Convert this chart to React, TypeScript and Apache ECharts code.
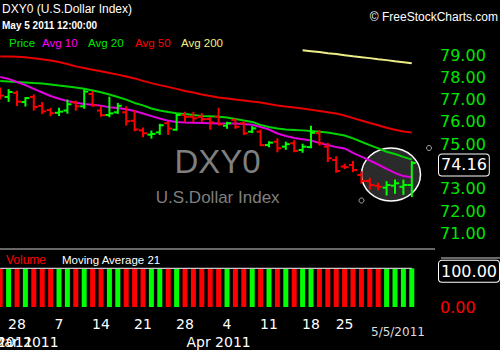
import React, { useEffect, useRef } from "react";
import * as echarts from "echarts";

const dates = [
  "2011-02-24", "2011-02-25", "2011-02-28", "2011-03-01", "2011-03-02", "2011-03-03", "2011-03-04",
  "2011-03-07", "2011-03-08", "2011-03-09", "2011-03-10", "2011-03-11",
  "2011-03-14", "2011-03-15", "2011-03-16", "2011-03-17", "2011-03-18",
  "2011-03-21", "2011-03-22", "2011-03-23", "2011-03-24", "2011-03-25",
  "2011-03-28", "2011-03-29", "2011-03-30", "2011-03-31", "2011-04-01",
  "2011-04-04", "2011-04-05", "2011-04-06", "2011-04-07", "2011-04-08",
  "2011-04-11", "2011-04-12", "2011-04-13", "2011-04-14", "2011-04-15",
  "2011-04-18", "2011-04-19", "2011-04-20", "2011-04-21",
  "2011-04-25", "2011-04-26", "2011-04-27", "2011-04-28", "2011-04-29",
  "2011-05-02", "2011-05-03", "2011-05-04", "2011-05-05",
];
const padCategories = ["pad1", "pad2", "pad3"];

const opens = [
  77.35, 77.12, 77.30, 76.89, 77.12, 76.72, 76.53, 76.41, 76.51, 76.88,
  76.70, 77.25, 76.51, 76.31, 76.43, 76.43, 76.05, 75.62, 75.43, 75.53,
  75.94, 75.65, 76.31, 76.23, 76.23, 76.13, 76.23, 75.83, 76.09, 75.94,
  75.56, 75.56, 74.96, 75.11, 74.89, 75.04, 74.74, 74.87, 75.49, 74.89,
  74.29, 74.00, 74.07, 73.62, 73.35, 73.14, 73.05, 73.14, 73.09, 73.17,
];
const highs = [
  77.52, 77.45, 77.38, 77.09, 77.21, 76.87, 76.61, 76.61, 76.98, 76.93,
  77.43, 77.36, 76.70, 77.11, 76.83, 76.68, 76.51, 75.73, 75.59, 75.89,
  76.01, 76.34, 76.43, 76.43, 76.37, 76.20, 76.61, 75.98, 76.13, 76.01,
  75.79, 75.64, 75.11, 75.24, 75.09, 75.16, 75.00, 75.80, 75.62, 75.04,
  74.44, 74.10, 74.22, 73.77, 73.47, 73.25, 73.32, 73.39, 73.39, 74.22,
];
const lows = [
  77.03, 76.92, 76.74, 76.71, 76.53, 76.38, 76.27, 76.29, 76.39, 76.53,
  76.61, 76.70, 76.25, 76.23, 76.38, 75.86, 75.60, 75.33, 75.27, 75.44,
  75.44, 75.63, 76.01, 76.01, 76.01, 75.67, 75.86, 75.71, 75.71, 75.44,
  75.52, 74.93, 74.89, 74.66, 74.77, 74.66, 74.64, 74.84, 74.96, 74.22,
  73.74, 73.90, 73.77, 73.25, 72.99, 72.95, 72.72, 72.80, 72.75, 72.65,
];
const closes = [
  77.18, 77.34, 76.91, 77.07, 76.67, 76.47, 76.39, 76.46, 76.79, 76.70,
  77.36, 76.74, 76.30, 76.38, 76.72, 76.03, 75.66, 75.49, 75.46, 75.85,
  75.70, 76.31, 76.23, 76.16, 76.12, 75.98, 75.89, 75.94, 75.78, 75.49,
  75.71, 74.96, 75.07, 74.82, 75.00, 74.70, 74.89, 75.51, 75.04, 74.37,
  73.80, 73.97, 73.84, 73.35, 73.17, 73.09, 73.17, 73.25, 73.17, 74.16,
];

const avg10 = [
  78.01, 77.93, 77.79, 77.65, 77.48, 77.32, 77.16, 77.04, 76.94, 76.86,
  76.80, 76.77, 76.73, 76.66, 76.62, 76.57, 76.49, 76.38, 76.26, 76.15,
  76.05, 76.00, 75.97, 75.96, 75.95, 75.94, 75.93, 75.93, 75.93, 75.91,
  75.87, 75.77, 75.66, 75.48, 75.37, 75.28, 75.22, 75.17, 75.05, 74.96,
  74.87, 74.81, 74.61, 74.44, 74.27, 74.09, 73.89, 73.71, 73.57, 73.52,
];
const avg20 = [
  77.83, 77.81, 77.79, 77.77, 77.74, 77.72, 77.68, 77.63, 77.59, 77.54,
  77.49, 77.41, 77.33, 77.23, 77.12, 77.00, 76.85, 76.74, 76.60, 76.51,
  76.44, 76.39, 76.35, 76.31, 76.26, 76.25, 76.23, 76.20, 76.13, 76.06,
  76.00, 75.86, 75.77, 75.70, 75.66, 75.64, 75.62, 75.59, 75.56, 75.52,
  75.46, 75.39, 75.26, 75.11, 74.96, 74.81, 74.66, 74.56, 74.43, 74.31,
];
const avg50 = [
  78.93, 78.93, 78.92, 78.90, 78.85, 78.81, 78.75, 78.69, 78.60, 78.49,
  78.42, 78.34, 78.27, 78.19, 78.12, 78.04, 77.95, 77.84, 77.74, 77.65,
  77.57, 77.48, 77.39, 77.32, 77.23, 77.16, 77.09, 77.05, 77.00, 76.96,
  76.91, 76.87, 76.80, 76.74, 76.69, 76.65, 76.60, 76.55, 76.49, 76.43,
  76.38, 76.29, 76.17, 76.06, 75.95, 75.85, 75.74, 75.65, 75.57, 75.52,
];
const avg200 = [
  null, null, null, null, null, null, null, null, null, null,
  null, null, null, null, null, null, null, null, null, null,
  null, null, null, null, null, null, null, null, null, null,
  null, null, null, null, null, null, 79.21, 79.17, 79.13, 79.08,
  79.04, 78.99, 78.94, 78.90, 78.86, 78.81, 78.77, 78.72, 78.68, 78.63,
];

const volumes = [
  100, 100, 100, 100, 100, 100, 100, 100, 100, 100,
  100, 100, 100, 100, 100, 100, 100, 100, 100, 100,
  100, 100, 100, 100, 100, 100, 100, 100, 100, 100,
  100, 100, 100, 100, 100, 100, 100, 100, 100, 100,
  100, 100, 100, 100, 100, 100, 100, 100, 100, 100,
];
const volumeAvg21 = [
  100, 100, 100, 100, 100, 100, 100, 100, 100, 100,
  100, 100, 100, 100, 100, 100, 100, 100, 100, 100,
  100, 100, 100, 100, 100, 100, 100, 100, 100, 100,
  100, 100, 100, 100, 100, 100, 100, 100, 100, 100,
  100, 100, 100, 100, 100, 100, 100, 100, 100, 100,
];

const dayTicks = [
  "2011-02-28", "2011-03-07", "2011-03-14", "2011-03-21", "2011-03-28",
  "2011-04-04", "2011-04-11", "2011-04-18", "2011-04-25",
];
const monthTicks = ["2011-03-01", "2011-04-01"];
const monthNames = ["Mar 2011", "Apr 2011"];
const hiddenPriceTicks = [70, 74, 80];

const UP = "#00ff00";
const DOWN = "#ff0000";
const SANS = "Liberation Sans, Arial, sans-serif";
const VERD = "DejaVu Sans, Verdana, sans-serif";

export default function App() {
  const ref = useRef<HTMLDivElement>(null);

  useEffect(() => {
    if (!ref.current) return;
    const chart = echarts.init(ref.current, null, { renderer: "svg" });
    const cats = [...dates, ...padCategories];
    const ohlc = dates.map((_, i) => [i, opens[i], closes[i], lows[i], highs[i]]);
    const lastClose = closes[closes.length - 1];

    const txt = (text: string, x: number, y: number, fill: string, font: string, align = "left", z = 10) => ({
      type: "text",
      x,
      y,
      z,
      style: {
        text,
        fill,
        font,
        align,
        textAlign: align,
        verticalAlign: "middle",
        textVerticalAlign: "middle",
      },
    });

    const option: any = {
      animation: false,
      backgroundColor: "#000000",
      grid: [
        { left: 0.2, top: 32.7, width: 436.8, height: 223, outerBoundsMode: "none", containLabel: false },
        { left: 0.2, top: 268.3, width: 436.8, height: 38.7, outerBoundsMode: "none", containLabel: false },
      ],
      xAxis: [
        {
          type: "category",
          gridIndex: 0,
          data: cats,
          boundaryGap: false,
          axisLine: { show: false },
          axisTick: { show: false },
          axisLabel: { show: false },
          splitLine: { show: false },
        },
        {
          type: "category",
          gridIndex: 1,
          data: cats,
          boundaryGap: false,
          axisLine: { show: false },
          axisTick: { show: false },
          splitLine: { show: false },
          axisLabel: {
            margin: 10,
            color: "#ffffff",
            fontSize: 14,
            fontFamily: VERD,
            interval: (_i: number, v: string) => dayTicks.includes(v),
            formatter: (v: string) => String(Number(v.slice(8))),
          },
        },
        {
          type: "category",
          gridIndex: 1,
          data: cats,
          boundaryGap: false,
          position: "bottom",
          offset: 18,
          axisLine: { show: false },
          axisTick: { show: false },
          splitLine: { show: false },
          axisLabel: {
            margin: 10,
            color: "#ffffff",
            fontSize: 14,
            fontFamily: VERD,
            interval: (_i: number, v: string) => monthTicks.includes(v),
            formatter: (v: string) => {
              const k = monthTicks.indexOf(v);
              return k >= 0 ? monthNames[k] : "";
            },
          },
        },
      ],
      yAxis: [
        {
          type: "value",
          gridIndex: 0,
          position: "right",
          min: 70,
          max: 80,
          interval: 1,
          axisLine: { show: false },
          axisTick: { show: false },
          splitLine: { show: false },
          axisLabel: {
            margin: 3,
            color: "#00e600",
            fontSize: 16,
            fontFamily: VERD,
            formatter: (v: number) => (hiddenPriceTicks.includes(v) ? "" : v.toFixed(2)),
          },
        },
        {
          type: "value",
          gridIndex: 1,
          position: "right",
          min: 0,
          max: 100,
          interval: 100,
          axisLine: { show: false },
          axisTick: { show: false },
          splitLine: { show: false },
          axisLabel: {
            margin: 3,
            color: "#ff0000",
            fontSize: 16,
            fontFamily: VERD,
            formatter: (v: number) => (v === 0 ? "0.00" : ""),
          },
        },
      ],
      series: [
        {
          name: "Avg 50",
          type: "line",
          xAxisIndex: 0,
          yAxisIndex: 0,
          data: avg50,
          symbol: "none",
          lineStyle: { color: "#e80000", width: 2 },
          z: 3,
        },
        {
          name: "Avg 200",
          type: "line",
          xAxisIndex: 0,
          yAxisIndex: 0,
          data: avg200,
          symbol: "none",
          lineStyle: { color: "#eeee88", width: 2 },
          z: 3,
        },
        {
          name: "Avg 20",
          type: "line",
          xAxisIndex: 0,
          yAxisIndex: 0,
          data: avg20,
          symbol: "none",
          lineStyle: { color: "#00d400", width: 2 },
          z: 3,
        },
        {
          name: "Avg 10",
          type: "line",
          xAxisIndex: 0,
          yAxisIndex: 0,
          data: avg10,
          symbol: "none",
          lineStyle: { color: "#e000e0", width: 2 },
          z: 3,
          markLine: {
            silent: true,
            symbol: ["none", "none"],
            lineStyle: { color: "rgba(0,0,0,0)", width: 0 },
            data: [{ yAxis: lastClose }],
            label: {
              show: true,
              position: "end",
              distance: 2,
              offset: [0, 2],
              formatter: lastClose.toFixed(2),
              color: "#ffffff",
              fontSize: 16,
              fontFamily: VERD,
              backgroundColor: "#000000",
              borderColor: "#ffffff",
              borderWidth: 1,
              borderRadius: 3,
              padding: [3, 2, 2, 2],
            },
          },
        },
        {
          name: "Price",
          type: "custom",
          xAxisIndex: 0,
          yAxisIndex: 0,
          data: ohlc,
          encode: { x: 0, y: [1, 2, 3, 4] },
          z: 5,
          renderItem: (_params: any, api: any) => {
            const idx = api.value(0);
            const o = api.value(1);
            const c = api.value(2);
            const l = api.value(3);
            const h = api.value(4);
            const pH = api.coord([idx, h]);
            const pL = api.coord([idx, l]);
            const pO = api.coord([idx, o]);
            const pC = api.coord([idx, c]);
            const color = c >= o ? UP : DOWN;
            const st = { stroke: color, lineWidth: 2 };
            return {
              type: "group",
              children: [
                { type: "line", shape: { x1: pH[0], y1: pH[1] - 0.5, x2: pL[0], y2: pL[1] + 0.5 }, style: st },
                { type: "line", shape: { x1: pO[0] - 4, y1: pO[1], x2: pO[0], y2: pO[1] }, style: st },
                { type: "line", shape: { x1: pC[0], y1: pC[1], x2: pC[0] + 4, y2: pC[1] }, style: st },
              ],
            };
          },
        },
        {
          name: "Volume",
          type: "bar",
          xAxisIndex: 1,
          yAxisIndex: 1,
          barWidth: 5,
          data: volumes.map((v, i) => ({
            value: v,
            itemStyle: { color: closes[i] >= opens[i] ? UP : DOWN },
          })),
          markLine: {
            silent: true,
            symbol: ["none", "none"],
            lineStyle: { color: "rgba(0,0,0,0)", width: 0 },
            data: [{ yAxis: 100 }],
            label: {
              show: true,
              position: "end",
              distance: 2,
              offset: [0, 3],
              formatter: "100.00",
              color: "#ffffff",
              fontSize: 16,
              fontFamily: VERD,
              backgroundColor: "#000000",
              borderColor: "#ffffff",
              borderWidth: 1,
              borderRadius: 3,
              padding: [3, 2, 2, 2],
            },
          },
        },
        {
          name: "Moving Average 21",
          type: "line",
          xAxisIndex: 1,
          yAxisIndex: 1,
          data: volumeAvg21,
          symbol: "none",
          lineStyle: { color: "#c8c8c8", width: 1.5 },
          z: 4,
        },
      ],
      graphic: [
        { type: "line", shape: { x1: 0, y1: 249, x2: 435, y2: 249 }, style: { stroke: "#8a8a8a", lineWidth: 1.5 }, z: 1 },
        { type: "line", shape: { x1: 441, y1: 258, x2: 500, y2: 258 }, style: { stroke: "#8a8a8a", lineWidth: 1.5 }, z: 1 },
        {
          type: "ellipse",
          shape: { cx: 391, cy: 174.5, rx: 29.5, ry: 26.5 },
          style: { fill: "#2b2b2b", stroke: "#ffffff", lineWidth: 1.5 },
          z: 0,
        },
        { type: "circle", shape: { cx: 361.5, cy: 200.5, r: 2.5 }, style: { fill: "none", stroke: "#aaaaaa", lineWidth: 1 }, z: 1 },
        { type: "circle", shape: { cx: 429, cy: 148, r: 2.5 }, style: { fill: "none", stroke: "#aaaaaa", lineWidth: 1 }, z: 1 },
        txt("DXY0", 217.5, 161, "#7f7f7f", `33px ${SANS}`, "center", 0),
        txt("U.S.Dollar Index", 217.7, 197.5, "#7f7f7f", `17px ${SANS}`, "center", 0),
        txt("DXY0 (U.S.Dollar Index)", 2, 8.5, "#ffffff", `12px ${SANS}`),
        txt("May 5 2011 12:00:00", 2, 25, "#ffffff", `bold 10px ${SANS}`),
        txt("© FreeStockCharts.com", 498, 17, "#ffffff", `12px ${SANS}`, "right"),
        txt("Price", 9, 43, "#00e600", `11.5px ${SANS}`),
        txt("Avg 10", 42, 43, "#ff00ff", `11.5px ${SANS}`),
        txt("Avg 20", 88, 43, "#00e600", `11.5px ${SANS}`),
        txt("Avg 50", 135, 43, "#ff0000", `11.5px ${SANS}`),
        txt("Avg 200", 181, 43, "#f0f080", `11.5px ${SANS}`),
        txt("Volume", 6, 260, "#ff0000", `12px ${SANS}`),
        txt("Moving Average 21", 62, 260, "#ffffff", `11.5px ${SANS}`),
        txt("Feb 2011", 0.2, 342, "#ffffff", `14px ${VERD}`, "center"),
        txt("5/5/2011", 371, 332, "#dddddd", `12px ${VERD}`),
      ],
    };

    chart.setOption(option);
    return () => chart.dispose();
  }, []);

  return (
    <div
      ref={ref}
      style={{ position: "fixed", left: 0, top: 0, width: 500, height: 350, background: "#000" }}
    />
  );
}
